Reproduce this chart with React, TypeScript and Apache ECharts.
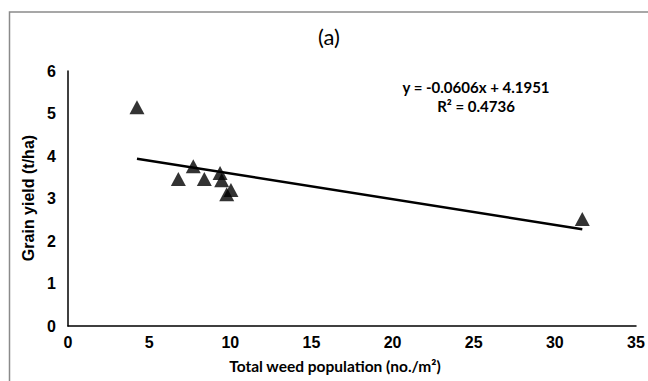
import React, { useEffect, useRef } from "react";
import * as echarts from "echarts";

const weedPopulation = [4.25, 6.8, 7.72, 8.4, 9.37, 9.47, 9.78, 10.04, 31.69];
const grainYield = [5.15, 3.46, 3.76, 3.46, 3.6, 3.43, 3.1, 3.2, 2.52];
const xTicks = [0, 5, 10, 15, 20, 25, 30, 35];
const yTicks = [0, 1, 2, 3, 4, 5, 6];
const slope = -0.0606;
const intercept = 4.1951;
const rSquared = 0.4736;

export default function App() {
  const ref = useRef<HTMLDivElement>(null);
  useEffect(() => {
    if (!ref.current) return;
    const chart = echarts.init(ref.current, null, { renderer: "svg" });
    const points = weedPopulation.map((x, i) => [x, grainYield[i]]);
    const xMin = Math.min(...weedPopulation);
    const xMax = Math.max(...weedPopulation);
    const trend = [
      [xMin, slope * xMin + intercept],
      [xMax, slope * xMax + intercept],
    ];
    const tickFont = {
      fontFamily: "Liberation Sans",
      fontWeight: "bold" as const,
      fontSize: 16,
      color: "#000",
    };
    chart.setOption({
      animation: false,
      backgroundColor: "#fff",
      grid: { left: 68, right: 12, top: 71, bottom: 55, containLabel: false },
      xAxis: {
        type: "value",
        min: xTicks[0],
        max: xTicks[xTicks.length - 1],
        interval: 5,
        splitLine: { show: false },
        axisTick: { show: false },
        axisLine: { show: true, onZero: false, lineStyle: { color: "#000", width: 1.5 } },
        axisLabel: { ...tickFont, margin: 8 },
      },
      yAxis: {
        type: "value",
        min: yTicks[0],
        max: yTicks[yTicks.length - 1],
        interval: 1,
        splitLine: { show: false },
        axisTick: { show: false },
        axisLine: { show: true, onZero: false, lineStyle: { color: "#000", width: 1.5 } },
        axisLabel: { ...tickFont, margin: 12 },
      },
      series: [
        {
          type: "line",
          data: trend,
          symbol: "none",
          lineStyle: { color: "#000", width: 2.5 },
          z: 2,
        },
        {
          type: "scatter",
          data: points,
          symbol: "triangle",
          symbolSize: [15, 14],
          itemStyle: { color: "#000" },
          z: 3,
        },
      ],
      graphic: [
        {
          type: "rect",
          shape: { x: 9.5, y: 12, width: 700, height: 420 },
          style: { fill: "none", stroke: "#8a8a8a", lineWidth: 1.5 },
          silent: true,
        },
        {
          type: "text",
          x: 329,
          y: 36,
          style: {
            text: "(a)",
            font: "22px Lato",
            fill: "#000",
            align: "center",
            verticalAlign: "middle",
          },
        },
        {
          type: "text",
          x: 476,
          y: 87,
          style: {
            text: `y = ${slope.toFixed(4)}x + ${intercept.toFixed(4)}`,
            font: "bold 15px Lato",
            fill: "#000",
            align: "center",
            verticalAlign: "middle",
          },
        },
        {
          type: "text",
          x: 476,
          y: 106,
          style: {
            text: `R² = ${rSquared.toFixed(4)}`,
            font: "bold 15px Lato",
            fill: "#000",
            align: "center",
            verticalAlign: "middle",
          },
        },
        {
          type: "text",
          x: 28,
          y: 198,
          rotation: Math.PI / 2,
          style: {
            text: "Grain yield (t/ha)",
            font: "bold 16px 'Liberation Sans'",
            fill: "#000",
            align: "center",
            verticalAlign: "middle",
          },
        },
        {
          type: "text",
          x: 335,
          y: 366,
          style: {
            text: "Total weed population (no./m²)",
            font: "bold 15.5px Lato",
            fill: "#000",
            align: "center",
            verticalAlign: "middle",
          },
        },
      ],
    });
    return () => chart.dispose();
  }, []);
  return (
    <div
      ref={ref}
      style={{ position: "fixed", left: 0, top: 0, width: 648, height: 381 }}
    />
  );
}
